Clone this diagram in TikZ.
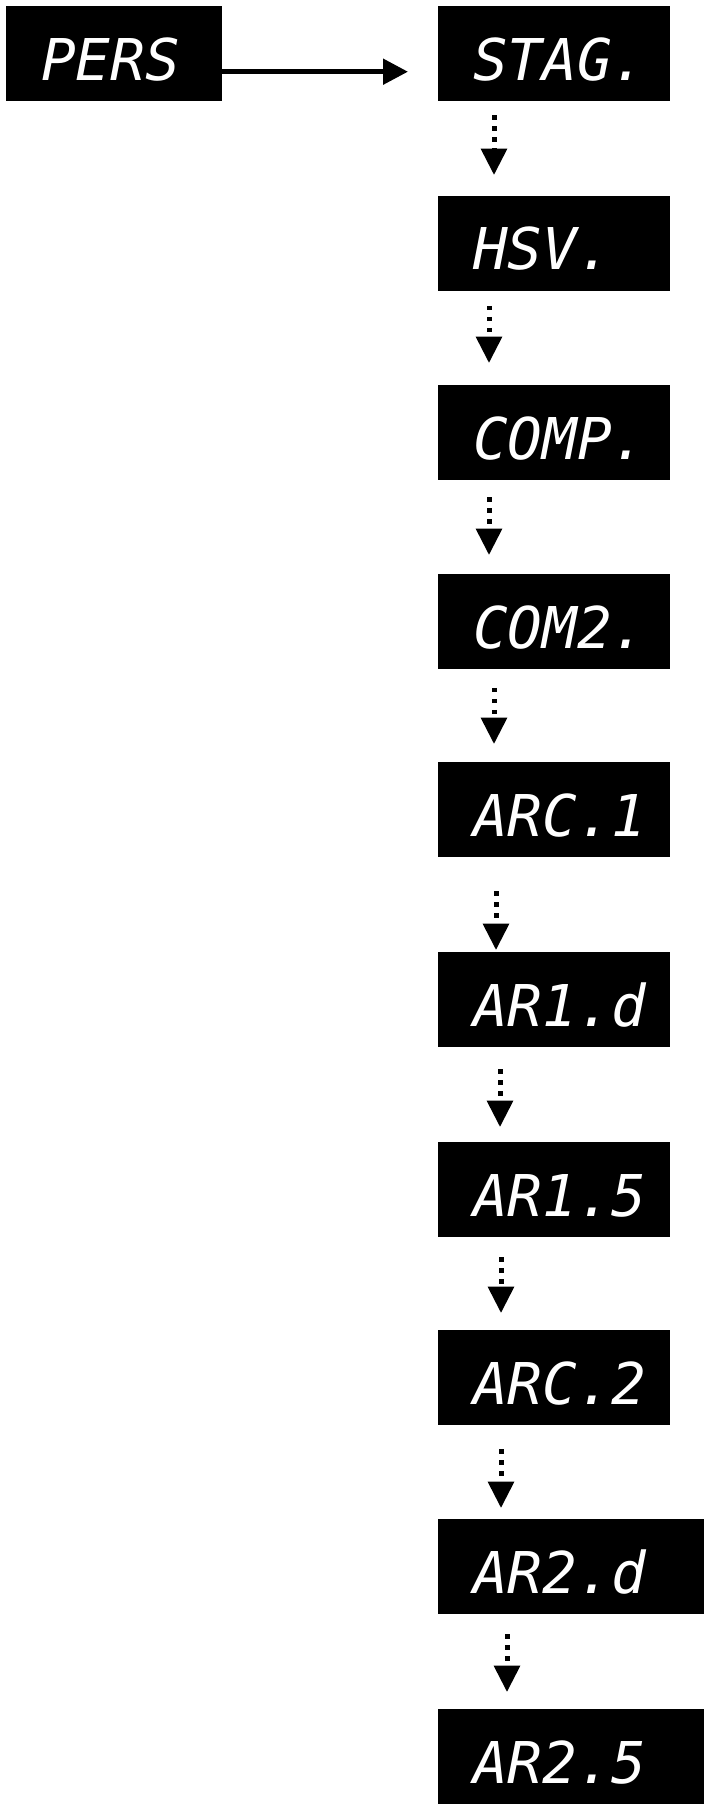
\documentclass[tikz,border=0pt]{standalone}
\usepackage{fontspec}
\newfontfamily\seg{DejaVu Sans Mono}
\usetikzlibrary{arrows.meta}
\begin{document}
\begin{tikzpicture}[x=1pt,y=-1pt,
  disp/.style={fill=black, text=white, font=\seg\itshape\fontsize{57.6}{60}\selectfont,
    inner xsep=35pt, inner ysep=0pt, text height=74pt, text depth=21pt,
    align=left, text width=162pt, anchor=north west},
  wide/.style={text width=196pt},
  harrow/.style={line width=5pt, -{Triangle[length=25pt,width=25pt]}},
  darrow/.style={line width=5pt, dash pattern=on 4.3pt off 6.7pt, -{Triangle[length=26.5pt,width=25.5pt]}}
]
\useasboundingbox (0,0) rectangle (704,1805);
\node[disp, text width=146pt] (pers) at (6,6) {PERS};
\node[disp] (stag) at (438,6) {STAG.};
\node[disp] (hsv) at (438,195.5) {HSV.};
\node[disp] (comp) at (438,385) {COMP.};
\node[disp] (com2) at (438,574) {COM2.};
\node[disp] (arc1) at (438,762) {ARC.1};
\node[disp] (ar1d) at (438,952) {AR1.d};
\node[disp] (ar15) at (438,1142) {AR1.5};
\node[disp] (arc2) at (438,1330) {ARC.2};
\node[disp, wide] (ar2d) at (438,1519) {AR2.d};
\node[disp, wide] (ar25) at (438,1709) {AR2.5};

\draw[harrow] ([yshift=-18pt]pers.east) -- ([yshift=-18pt,xshift=-30pt]stag.west);
\draw[darrow] ([xshift=56pt,yshift=-14pt]stag.south west) -- ([xshift=56pt,yshift=20.5pt]hsv.north west);
\draw[darrow] ([xshift=51pt,yshift=-15pt]hsv.south west) -- ([xshift=51pt,yshift=22pt]comp.north west);
\draw[darrow] ([xshift=51pt,yshift=-17pt]comp.south west) -- ([xshift=51pt,yshift=19pt]com2.north west);
\draw[darrow] ([xshift=56pt,yshift=-18.5pt]com2.south west) -- ([xshift=56pt,yshift=18pt]arc1.north west);
\draw[darrow] ([xshift=58pt,yshift=-34pt]arc1.south west) -- ([xshift=58pt,yshift=2pt]ar1d.north west);
\draw[darrow] ([xshift=62pt,yshift=-22pt]ar1d.south west) -- ([xshift=62pt,yshift=15pt]ar15.north west);
\draw[darrow] ([xshift=63pt,yshift=-20pt]ar15.south west) -- ([xshift=63pt,yshift=17pt]arc2.north west);
\draw[darrow] ([xshift=63pt,yshift=-24pt]arc2.south west) -- ([xshift=63pt,yshift=11pt]ar2d.north west);
\draw[darrow] ([xshift=69pt,yshift=-20pt]ar2d.south west) -- ([xshift=69pt,yshift=17pt]ar25.north west);
\end{tikzpicture}
\end{document}
